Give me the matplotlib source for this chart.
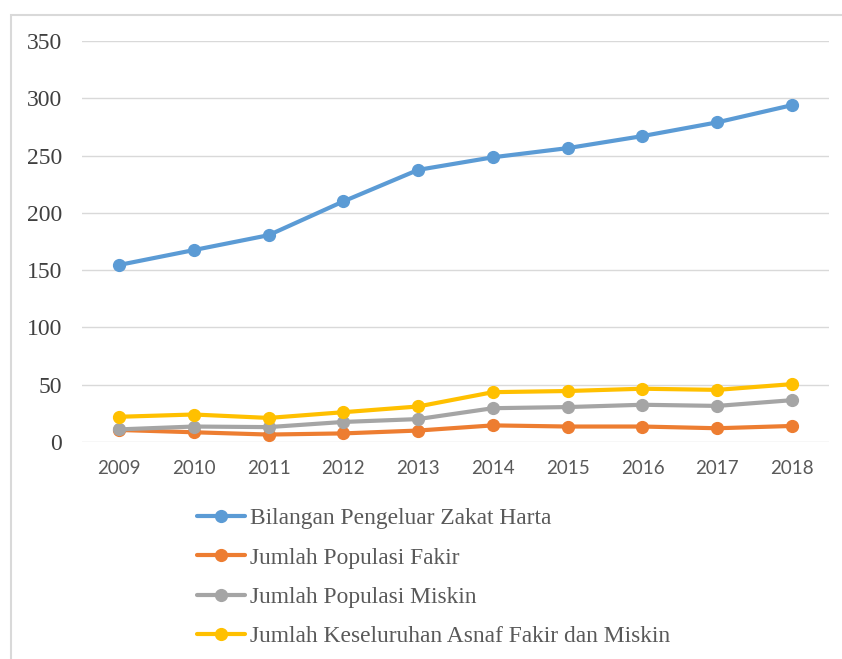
import matplotlib
matplotlib.use("Agg")
import matplotlib.pyplot as plt
from matplotlib.patches import Rectangle

years = ["2009", "2010", "2011", "2012", "2013", "2014", "2015", "2016", "2017", "2018"]
zakat = [154.5, 167.5, 180.5, 210, 237.5, 248.5, 256.5, 267, 279, 294]
fakir = [10.5, 8.5, 6.5, 7.5, 10, 14.5, 13.5, 13.5, 12, 14]
miskin = [11, 13.5, 13, 17.5, 20, 29.5, 30.5, 32.5, 31.5, 36.5]
asnaf = [22, 24, 21, 26, 31, 43.5, 44.5, 46.5, 45.5, 50.5]

labels = ["Bilangan Pengeluar Zakat Harta", "Jumlah Populasi Fakir",
          "Jumlah Populasi Miskin", "Jumlah Keseluruhan Asnaf Fakir dan Miskin"]
colors = ["#5B9BD5", "#ED7D31", "#A5A5A5", "#FFC000"]
series = [zakat, fakir, miskin, asnaf]

W, H = 842, 659
fig = plt.figure(figsize=(W / 100, H / 100), dpi=100)
fig.patch.set_facecolor("white")

# outer chart border (cropped at right/bottom)
fig.patches.append(Rectangle((11 / W, -0.1), 1.2, 1 - 15 / H + 0.1,
                             transform=fig.transFigure, fill=False,
                             edgecolor="#D9D9D9", linewidth=1.5))

left, right = 81.6 / W, 829.4 / W
bottom, top = 1 - 442 / H, 1 - 41 / H
ax = fig.add_axes([left, bottom, right - left, top - bottom])

x = list(range(len(years)))
for s, c, lab in zip(series, colors, labels):
    ax.plot(x, s, color=c, lw=3.0, marker="o", markersize=8.5, label=lab,
            solid_capstyle="round", zorder=3)

ax.set_xlim(-0.5, len(years) - 0.5)
ax.set_ylim(0, 350)
ax.set_yticks(range(0, 351, 50))
ax.set_xticks(x)
ax.set_xticklabels(years, family="Lato", fontsize=13.5, color="#595959")
for t in ax.get_yticklabels():
    t.set_family("Liberation Serif")
    t.set_fontsize(17)
    t.set_color("#404040")
ax.tick_params(axis="both", length=0)
ax.tick_params(axis="y", pad=14)
ax.tick_params(axis="x", pad=13)
ax.grid(axis="y", color="#D9D9D9", lw=1.0, zorder=0)
for sp in ax.spines.values():
    sp.set_visible(False)

fig.legend(loc="upper left", bbox_to_anchor=(197 / W, 1 - 508 / H),
           bbox_transform=fig.transFigure, frameon=False, borderpad=0,
           borderaxespad=0, handlelength=2.05, handletextpad=0.22,
           labelspacing=0.76,
           prop={"family": "Liberation Serif", "size": 16.9},
           labelcolor="#595959")

fig.savefig("out.png", dpi=100)
